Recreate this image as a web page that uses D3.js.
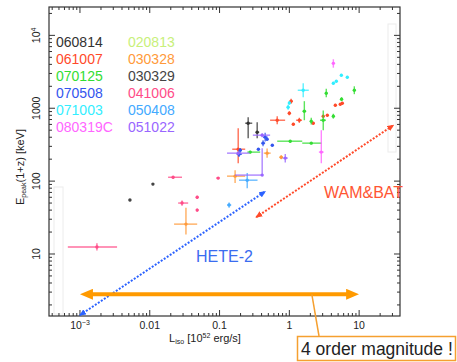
<!DOCTYPE html>
<html>
<head>
<meta charset="utf-8">
<script src="https://cdn.jsdelivr.net/npm/d3@7"></script>
<style>
  body { margin: 0; background: #fff; }
  text { font-family: "Liberation Sans", Arial, Helvetica, sans-serif; }
</style>
</head>
<body>
<div id="chart"></div>
<script>
// legend order (two columns of six)
const bursts = ["060814", "061007", "070125", "070508", "071003", "080319C",
                "020813", "030328", "030329", "041006", "050408", "051022"];
const colors = ["#333333", "#ff4a2a", "#33dd33", "#3355ee", "#33eeff", "#ff66ff",
                "#c8f07a", "#ff9a3a", "#444444", "#ff4c88", "#44aaff", "#9966ff"];

// each point: [Liso, Lmin, Lmax, Epeak, Emin, Emax]
const grb060814 = [
  [0.257, 0.233, 0.294, 623, 388, 753],
  [0.346, 0.33, 0.37, 469, 388, 643]
];
const grb061007 = [
  [1.06, 1.0, 1.12, 1248, 1150, 1350],
  [1.0, 0.95, 1.05, 855, 800, 910],
  [0.67, 0.53, 0.87, 685, 604, 777],
  [1.39, 1.25, 1.52, 685, 630, 740],
  [1.14, 1.1, 1.2, 604, 580, 630],
  [2.2, 2.1, 2.3, 623, 600, 650],
  [3.06, 3.0, 3.15, 777, 750, 800],
  [3.5, 3.4, 3.6, 802, 770, 830],
  [4.56, 4.4, 4.7, 1100, 1050, 1150],
  [5.74, 5.6, 5.9, 1170, 1120, 1220],
  [5.37, 5.2, 5.5, 1135, 1090, 1180],
  [0.185, 0.152, 0.233, 274, 176, 532]
];
const grb070125 = [
  [3.38, 3.3, 3.45, 1605, 1415, 1850],
  [8.53, 8.2, 8.9, 1765, 1560, 2000],
  [1.64, 1.55, 1.74, 910, 685, 1250],
  [2.06, 2.0, 2.12, 664, 600, 740],
  [3.06, 2.75, 3.35, 685, 500, 930],
  [4.27, 4.2, 4.35, 777, 720, 840],
  [5.6, 5.4, 5.8, 1330, 1250, 1420],
  [1.03, 0.67, 1.53, 353, 340, 366],
  [2.06, 1.53, 2.9, 332, 320, 345],
  [0.275, 0.25, 0.382, 250, 240, 262]
];
const grb070508 = [
  [0.45, 0.42, 0.49, 401, 350, 460],
  [0.42, 0.40, 0.45, 332, 300, 365],
  [0.48, 0.46, 0.50, 376, 360, 392],
  [0.36, 0.35, 0.37, 274, 265, 283],
  [0.57, 0.55, 0.59, 311, 300, 322],
  [0.19, 0.175, 0.21, 234, 215, 255],
  [0.198, 0.19, 0.207, 266, 245, 285]
];
const grb071003 = [
  [5.56, 5.4, 5.7, 2830, 2700, 2960],
  [6.77, 6.6, 6.95, 2660, 2540, 2780],
  [4.27, 4.15, 4.4, 2200, 2100, 2300],
  [4.71, 4.6, 4.85, 2345, 2250, 2440],
  [1.58, 1.32, 1.9, 1765, 1415, 2200],
  [0.96, 0.92, 1.0, 1032, 950, 1120],
  [1.0, 0.96, 1.04, 1180, 1120, 1240]
];
const grb080319C = [
  [4.27, 4.1, 4.45, 4130, 3600, 4700],
  [2.87, 2.65, 3.1, 250, 176, 500]
];
const grb020813 = [];
const grb030328 = [
  [0.48, 0.43, 0.54, 242, 210, 280],
  [0.765, 0.72, 0.81, 213, 200, 226],
  [0.167, 0.128, 0.233, 117, 94, 141],
  [0.033, 0.0223, 0.0478, 25.7, 18.5, 43]
];
const grb030329 = [
  [0.0111, 0.0108, 0.0114, 91, 88, 94],
  [0.0052, 0.0050, 0.0054, 55, 53, 57]
];
const grb041006 = [
  [0.0216, 0.0183, 0.029, 113, 108, 118],
  [0.0955, 0.09, 0.10, 110, 106, 114],
  [0.0478, 0.046, 0.050, 60, 57, 63],
  [0.029, 0.0255, 0.0355, 50, 46, 54],
  [0.0478, 0.046, 0.050, 40, 38, 42],
  [0.00175, 0.00067, 0.0034, 12.5, 11.2, 14]
];
const grb050408 = [
  [0.249, 0.19, 0.35, 103, 80, 129],
  [0.137, 0.128, 0.147, 47, 43, 51]
];
const grb051022 = [
  [0.408, 0.30, 0.53, 427, 400, 455],
  [0.185, 0.128, 0.27, 242, 232, 252],
  [0.874, 0.80, 0.95, 207, 180, 235],
  [0.408, 0.167, 0.408, 121, 121, 283]
];
const series = [grb060814, grb061007, grb070125, grb070508, grb071003, grb080319C,
                grb020813, grb030328, grb030329, grb041006, grb050408, grb051022];

const xMajor = [1e-3, 0.01, 0.1, 1, 10];
const yMajor = [10, 100, 1000, 1e4];

// annotation lines in data units: [L1, E1, L2, E2]
const heteLine = [1e-3, 1.45, 0.45, 72];
const wamLine = [0.335, 32, 31, 585];
const orangeSpan = [1e-3, 10];
const orangeE = 2.8;
const calloutL = 2.1;

const width = 457;
const height = 362;
const plotLeft = 49, plotRight = 400, plotTop = 7, plotBottom = 316;

const x = d3.scaleLog().domain([3.6e-4, 38.5]).range([plotLeft, plotRight]);
const y = d3.scaleLog().domain([1.41, 24500]).range([plotBottom, plotTop]);

const svg = d3.select("#chart").append("svg")
  .attr("width", width)
  .attr("height", height);

// faint leftovers of the slide
svg.append("rect").attr("x", 388).attr("y", 24).attr("width", 8).attr("height", 128)
  .attr("fill", "none").attr("stroke", "#ececec");
svg.append("rect").attr("x", 54).attr("y", 187).attr("width", 9).attr("height", 127)
  .attr("fill", "none").attr("stroke", "#ececec");

// frame
svg.append("rect")
  .attr("x", plotLeft).attr("y", plotTop)
  .attr("width", plotRight - plotLeft).attr("height", plotBottom - plotTop)
  .attr("fill", "none").attr("stroke", "#333").attr("stroke-width", 1.2);

const isMajor = v => Math.abs(Math.log10(v) - Math.round(Math.log10(v))) < 1e-6;
const ticksG = svg.append("g").attr("stroke", "#333").attr("stroke-width", 1);

x.ticks().forEach(v => {
  const len = isMajor(v) ? 6 : 3;
  const px = x(v);
  ticksG.append("line").attr("x1", px).attr("x2", px).attr("y1", plotBottom).attr("y2", plotBottom - len);
  ticksG.append("line").attr("x1", px).attr("x2", px).attr("y1", plotTop).attr("y2", plotTop + len);
});
y.ticks().forEach(v => {
  const len = isMajor(v) ? 6 : 3;
  const py = y(v);
  ticksG.append("line").attr("x1", plotLeft).attr("x2", plotLeft + len).attr("y1", py).attr("y2", py);
  ticksG.append("line").attr("x1", plotRight).attr("x2", plotRight - len).attr("y1", py).attr("y2", py);
});

// x tick labels
xMajor.forEach(v => {
  const t = svg.append("text")
    .attr("x", x(v)).attr("y", 329)
    .attr("text-anchor", "middle")
    .attr("font-size", 10.5).attr("fill", "#222");
  if (v < 0.01) {
    t.append("tspan").text("10");
    t.append("tspan").attr("dy", -4).attr("font-size", 7).text("\u22123");
  } else {
    t.text(v >= 1 ? d3.format("d")(v) : String(v));
  }
});

// y tick labels (rotated)
yMajor.forEach(v => {
  const t = svg.append("text")
    .attr("transform", `translate(40,${y(v)}) rotate(-90)`)
    .attr("text-anchor", "middle")
    .attr("font-size", 10.5).attr("fill", "#222");
  if (v >= 1e4) {
    t.append("tspan").text("10");
    t.append("tspan").attr("dy", -4).attr("font-size", 7).text("4");
  } else {
    t.text(d3.format("d")(v));
  }
});

// axis titles
const xt = svg.append("text")
  .attr("x", 205).attr("y", 342)
  .attr("text-anchor", "middle")
  .attr("font-size", 11).attr("fill", "#222");
xt.append("tspan").text("L");
xt.append("tspan").attr("dy", 2).attr("font-size", 7).text("iso");
xt.append("tspan").attr("dy", -2).text(" [10");
xt.append("tspan").attr("dy", -4).attr("font-size", 7).text("52");
xt.append("tspan").attr("dy", 4).text(" erg/s]");

const yt = svg.append("text")
  .attr("transform", "translate(24,167) rotate(-90)")
  .attr("text-anchor", "middle")
  .attr("font-size", 11).attr("fill", "#222");
yt.append("tspan").text("E");
yt.append("tspan").attr("dy", 2).attr("font-size", 7).text("peak");
yt.append("tspan").attr("dy", -2).text("(1+z) [keV]");

// legend
svg.append("g").selectAll("text")
  .data(bursts)
  .enter()
  .append("text")
  .attr("x", (d, i) => 56 + (i < 6 ? 0 : 72))
  .attr("y", (d, i) => 47 + (i % 6) * 17)
  .attr("font-size", 14)
  .attr("fill", (d, i) => colors[i])
  .text(d => d);

// data points with error bars
const pts = svg.append("g");
series.forEach((data, i) => {
  const g = pts.append("g")
    .attr("stroke", colors[i])
    .attr("fill", colors[i]);

  g.selectAll(".xerr").data(data).enter().append("line")
    .attr("x1", d => x(d[1])).attr("x2", d => x(d[2]))
    .attr("y1", d => y(d[3])).attr("y2", d => y(d[3]))
    .attr("stroke-width", 1.4).attr("stroke-opacity", 0.8);

  g.selectAll(".yerr").data(data).enter().append("line")
    .attr("x1", d => x(d[0])).attr("x2", d => x(d[0]))
    .attr("y1", d => y(d[4])).attr("y2", d => y(d[5]))
    .attr("stroke-width", 1.4).attr("stroke-opacity", 0.8);

  g.selectAll("circle").data(data).enter().append("circle")
    .attr("cx", d => x(d[0])).attr("cy", d => y(d[3]))
    .attr("r", 1.7).attr("stroke", "none");
});

// arrow markers
const defs = svg.append("defs");
function addMarker(id, color, w, h, refX) {
  defs.append("marker")
    .attr("id", id)
    .attr("viewBox", `0 0 ${w} ${h}`)
    .attr("refX", refX).attr("refY", h / 2)
    .attr("markerWidth", w).attr("markerHeight", h)
    .attr("markerUnits", "userSpaceOnUse")
    .attr("orient", "auto-start-reverse")
    .append("path")
    .attr("d", `M0,0L${w},${h / 2}L0,${h}Z`)
    .attr("fill", color);
}
addMarker("hBlue", "#2b62ff", 7, 6, 6);
addMarker("hRed", "#ff4a2a", 7, 6, 6);
addMarker("hOrange", "#ff9a00", 13, 11, 1);

svg.append("line")
  .attr("x1", x(heteLine[0])).attr("y1", y(heteLine[1]))
  .attr("x2", x(heteLine[2])).attr("y2", y(heteLine[3]))
  .attr("stroke", "#2b62ff").attr("stroke-width", 2)
  .attr("stroke-dasharray", "2,1.6")
  .attr("marker-start", "url(#hBlue)").attr("marker-end", "url(#hBlue)");

svg.append("line")
  .attr("x1", x(wamLine[0])).attr("y1", y(wamLine[1]))
  .attr("x2", x(wamLine[2])).attr("y2", y(wamLine[3]))
  .attr("stroke", "#ff4a2a").attr("stroke-width", 2)
  .attr("stroke-dasharray", "2,1.6")
  .attr("marker-start", "url(#hRed)").attr("marker-end", "url(#hRed)");

// thick double arrow, tips land on the span ends
svg.append("line")
  .attr("x1", x(orangeSpan[0]) + 12).attr("y1", y(orangeE))
  .attr("x2", x(orangeSpan[1]) - 12).attr("y2", y(orangeE))
  .attr("stroke", "#ff9a00").attr("stroke-width", 4)
  .attr("marker-start", "url(#hOrange)").attr("marker-end", "url(#hOrange)");

svg.append("text")
  .attr("x", 196).attr("y", 262)
  .attr("font-size", 16).attr("fill", "#3a6cf0")
  .text("HETE-2");

svg.append("text")
  .attr("x", 324).attr("y", 198)
  .attr("font-size", 16).attr("fill", "#ff5533")
  .text("WAM&BAT");

// callout
svg.append("line")
  .attr("x1", x(calloutL)).attr("y1", y(orangeE))
  .attr("x2", 319).attr("y2", 336)
  .attr("stroke", "#f5a030").attr("stroke-width", 1.5);

svg.append("rect")
  .attr("x", 297.5).attr("y", 336.5)
  .attr("width", 158).attr("height", 24)
  .attr("fill", "#fff")
  .attr("stroke", "#f5a030").attr("stroke-width", 1.5);

svg.append("text")
  .attr("x", 301).attr("y", 355)
  .attr("font-size", 17.5).attr("fill", "#222")
  .text("4 order magnitude !");
</script>
</body>
</html>
